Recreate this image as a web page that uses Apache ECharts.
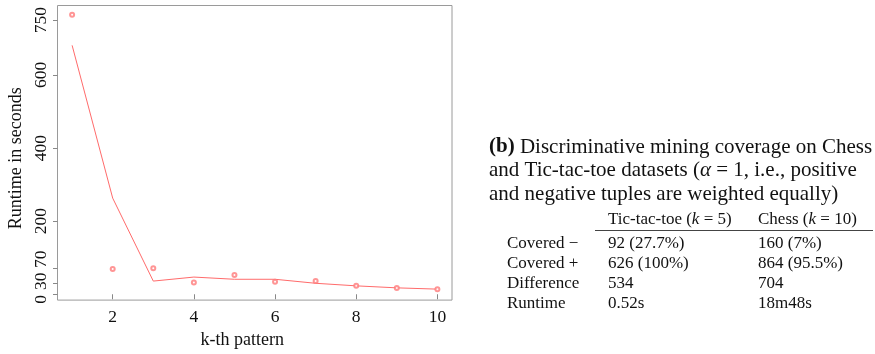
<!DOCTYPE html>
<html>
<head>
<meta charset="utf-8">
<script src="https://cdn.jsdelivr.net/npm/echarts@6/dist/echarts.min.js"></script>
<style>
html,body{margin:0;padding:0;background:#fff;}
#chart{width:875px;height:354px;}
</style>
</head>
<body>
<div id="chart"></div>
<script>
// ---- data ----
const kValues = [1, 2, 3, 4, 5, 6, 7, 8, 9, 10];
const runtimePoints = [765, 69, 71, 32, 53, 34, 36, 23, 17, 14];
const runtimeFit = [681, 263, 36, 47, 41, 41, 30, 23, 17.5, 14];
const xTicks = [2, 4, 6, 8, 10];
const yTicks = [0, 30, 70, 200, 400, 600, 750];
const xTitle = 'k-th pattern';
const yTitle = 'Runtime in seconds';

const captionLines = [
  '{b|(b)} Discriminative mining coverage on Chess',
  'and Tic-tac-toe datasets ({i|α} = 1, i.e., positive',
  'and negative tuples are weighted equally)'
];
const tableHeader = ['Tic-tac-toe ({i|k} = 5)', 'Chess ({i|k} = 10)'];
const rowLabels = ['Covered −', 'Covered +', 'Difference', 'Runtime'];
const ticTacToeCol = ['92 (27.7%)', '626 (100%)', '534', '0.52s'];
const chessCol = ['160 (7%)', '864 (95.5%)', '704', '18m48s'];

// ---- chart ----
const SERIF = '"Liberation Serif", "DejaVu Serif", serif';
const RED = '#ff6b6b';
const INK = '#111';
const chart = echarts.init(document.getElementById('chart'), null, {renderer: 'canvas'});

const yLabelRich = {
  n: {fontFamily: SERIF, fontSize: 17.5, color: INK},
  y0: {fontFamily: SERIF, fontSize: 17.5, color: INK, padding: [0, 10, 0, 0]},
  y30: {fontFamily: SERIF, fontSize: 17.5, color: INK, padding: [0, 0, 0, 4]},
  y70: {fontFamily: SERIF, fontSize: 17.5, color: INK, padding: [0, 0, 0, 19]}
};

// table graphics
const capSize = 21, tabSize = 17;
const capX = 489, capY0 = 147, capStep = 23.5;
const colX = [507, 608, 758];
const headY = 220, rowY0 = 243.5, rowStep = 20;
const graphics = [];
captionLines.forEach((t, i) => {
  graphics.push({type: 'text', x: capX, y: capY0 + i * capStep, silent: true, style: {
    text: t, fontFamily: SERIF, fontSize: capSize, fill: INK, verticalAlign: 'middle',
    rich: {
      b: {fontFamily: SERIF, fontSize: capSize, fontWeight: 'bold', fill: INK},
      i: {fontFamily: SERIF, fontSize: capSize, fontStyle: 'italic', fill: INK}
    }
  }});
});
tableHeader.forEach((t, i) => {
  graphics.push({type: 'text', x: colX[i + 1], y: headY, silent: true, style: {
    text: t, fontFamily: SERIF, fontSize: tabSize, fill: INK, verticalAlign: 'middle',
    rich: {i: {fontFamily: SERIF, fontSize: tabSize, fontStyle: 'italic', fill: INK}}
  }});
});
graphics.push({type: 'line', silent: true, shape: {x1: 595, y1: 230.5, x2: 873, y2: 230.5}, style: {stroke: '#444', lineWidth: 1}});
[rowLabels, ticTacToeCol, chessCol].forEach((col, c) => {
  col.forEach((t, r) => {
    graphics.push({type: 'text', x: colX[c], y: rowY0 + r * rowStep, silent: true, style: {
      text: t, fontFamily: SERIF, fontSize: tabSize, fill: INK, verticalAlign: 'middle'
    }});
  });
});

chart.setOption({
  animation: false,
  backgroundColor: '#fff',
  grid: {left: 57.5, right: 423, top: 5.5, bottom: 48.5, show: true, borderColor: '#9a9a9a', borderWidth: 1, backgroundColor: 'transparent'},
  xAxis: {
    type: 'value', min: 0.64, max: 10.36,
    axisLine: {show: false},
    splitLine: {show: false},
    axisTick: {show: true, length: 5, lineStyle: {color: '#888'}, customValues: xTicks},
    axisLabel: {customValues: xTicks, margin: 8, fontFamily: SERIF, fontSize: 17.5, color: INK},
    name: xTitle, nameLocation: 'middle', nameGap: 27,
    nameTextStyle: {fontFamily: SERIF, fontSize: 18, color: INK, padding: [0, 25, 0, 0]}
  },
  yAxis: {
    type: 'value', min: -16, max: 790,
    axisLine: {show: false},
    splitLine: {show: false},
    axisTick: {show: true, length: 4.5, lineStyle: {color: '#888'}, customValues: yTicks},
    axisLabel: {
      customValues: yTicks, margin: 7, rotate: 90, fontSize: 17.5, fontFamily: SERIF, color: INK,
      formatter: function (v) {
        const key = (v === 0) ? 'y0' : (v === 30) ? 'y30' : (v === 70) ? 'y70' : 'n';
        return '{' + key + '|' + v + '}';
      },
      rich: yLabelRich
    },
    name: yTitle, nameLocation: 'middle', nameGap: 32,
    nameTextStyle: {fontFamily: SERIF, fontSize: 18, color: INK, padding: [0, 11, 0, 0]}
  },
  series: [
    {
      type: 'line', data: kValues.map((k, i) => [k, runtimeFit[i]]),
      showSymbol: false, symbol: 'none',
      lineStyle: {color: RED, width: 1}, itemStyle: {color: RED}, silent: true
    },
    {
      type: 'scatter', data: kValues.map((k, i) => [k, runtimePoints[i]]),
      symbol: 'emptyCircle', symbolSize: 4,
      itemStyle: {color: '#ff7a7a', borderWidth: 0.8}, silent: true, z: 3
    }
  ],
  graphic: graphics
});
</script>
</body>
</html>
